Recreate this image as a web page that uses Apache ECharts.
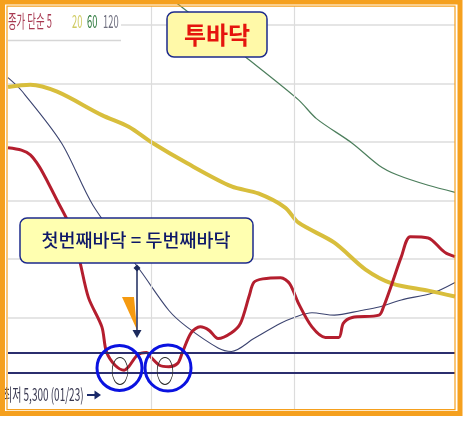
<!DOCTYPE html>
<html>
<head>
<meta charset="utf-8">
<title>투바닥</title>
<script src="https://cdn.jsdelivr.net/npm/echarts@6/dist/echarts.min.js"></script>
<style>
    html, body { margin: 0; padding: 0; background: #fff; }
    #chart { width: 465px; height: 423px; }
</style>
</head>
<body>
<div id="chart"></div>
<script>
// [일자, 가격] - 그림에서 읽은 값
const ma5 = [[0, 5495], [3, 5493], [5, 5489], [7, 5479], [9, 5465], [11, 5450], [14, 5427], [16, 5399],
    [18, 5367], [21, 5342], [22, 5321], [24, 5309], [26, 5305], [27, 5308], [29, 5318], [31, 5320],
    [32, 5316], [34, 5309], [36, 5308], [38, 5311], [39, 5320], [41, 5337], [43, 5342], [45, 5339],
    [47, 5332], [50, 5337], [52, 5345], [54, 5369], [55, 5380], [57, 5383], [61, 5384], [63, 5379],
    [65, 5362], [68, 5342], [71, 5333], [74, 5333], [75, 5345], [77, 5350], [83, 5352], [84, 5359],
    [86, 5380], [88, 5402], [90, 5419], [94, 5418], [97, 5408], [98, 5405], [100, 5402]];
const ma20 = [[0, 5547], [5, 5549], [11, 5543], [21, 5523], [27, 5513], [32, 5500], [40, 5482],
    [50, 5462], [56, 5456], [62, 5444], [65, 5431], [73, 5414], [80, 5391], [86, 5379], [94, 5373], [100, 5368]];
const ma60 = [[37, 5621], [39, 5615], [53, 5573], [65, 5536], [69, 5520], [77, 5499], [83, 5480],
    [87, 5472], [94, 5463], [100, 5457]];
const ma120 = [[0, 5555], [3, 5544], [12, 5499], [19, 5446], [30, 5388], [36, 5356], [40, 5342],
    [47, 5324], [50, 5321], [55, 5332], [61, 5345], [64, 5350], [68, 5354], [73, 5352], [79, 5356],
    [83, 5359], [88, 5365], [95, 5371], [100, 5380]];

const monthStarts = [32, 64];          // 세로 구분선
const bottomBand = [5303, 5320];       // 바닥 구간
const legendNames = ['종가 단순 5', '20', '60', '120'];
const legendColors = ['#a83a52', '#cfcb62', '#2e7a3e', '#707080'];
const legendX = [8, 72, 87, 103];
const lowLabel = '최저 5,300 (01/23)';

const FONT = '"Noto Sans CJK KR"';
const ORANGE = '#f5a01e';
const NAVY = '#1d2a8c';

let myChart = echarts.init(document.getElementById('chart'));

const legendGraphics = legendNames.map((name, i) => ({
    type: 'text',
    x: legendX[i],
    y: 21.5,
    scaleX: 0.52,
    z: 11,
    style: {
        text: name,
        font: '18px ' + FONT,
        fill: legendColors[i],
        textVerticalAlign: 'middle',
        verticalAlign: 'middle'
    }
}));

const option = {
    animation: false,
    backgroundColor: '#fff',
    grid: [
        { left: 8, right: 10, top: 25, bottom: 47 },
        // 세로선용
        { left: 8, right: 10, top: 6, bottom: 13 }
    ],
    xAxis: [
        { type: 'value', gridIndex: 0, min: 0, max: 100, show: false },
        { type: 'value', gridIndex: 1, min: 0, max: 100, show: false }
    ],
    yAxis: [
        {
            type: 'value', gridIndex: 0, min: 5300, max: 5600, interval: 50,
            axisLine: { show: false }, axisTick: { show: false }, axisLabel: { show: false },
            splitLine: { show: true, showMinLine: false, lineStyle: { color: '#dcdcdc', width: 1.5 } }
        },
        { type: 'value', gridIndex: 1, min: 0, max: 1, show: false }
    ],
    series: [
        {
            type: 'scatter',
            xAxisIndex: 1,
            yAxisIndex: 1,
            data: monthStarts.map(d => [d, 0]),
            symbolSize: 0,
            silent: true,
            markLine: {
                silent: true,
                symbol: ['none', 'none'],
                label: { show: false },
                lineStyle: { color: '#dcdcdc', width: 1.2, type: 'solid' },
                data: monthStarts.map(d => ({ xAxis: d }))
            }
        },
        {
            name: '60', type: 'line', data: ma60, symbol: 'none', smooth: 0.3, clip: false,
            lineStyle: { color: '#4c7e5c', width: 1.2 }, silent: true
        },
        {
            name: '120', type: 'line', data: ma120, symbol: 'none', smooth: 0.3,
            lineStyle: { color: '#3c4470', width: 1.1 }, silent: true,
            markLine: {
                silent: true,
                symbol: ['none', 'none'],
                label: { show: false },
                lineStyle: { color: '#2b2e6e', width: 2, type: 'solid' },
                data: bottomBand.map(v => ({ yAxis: v }))
            }
        },
        {
            name: '20', type: 'line', data: ma20, symbol: 'none', smooth: 0.3,
            lineStyle: { color: '#d8be3c', width: 4 }, silent: true
        },
        {
            name: '5', type: 'line', data: ma5, symbol: 'none', smooth: 0.3,
            lineStyle: { color: '#b41e2e', width: 3 }, silent: true
        }
    ],
    graphic: [
        // 범례 바탕
        { type: 'rect', shape: { x: 8, y: 7, width: 113, height: 33 }, style: { fill: '#fff' }, z: 10 },
        { type: 'line', shape: { x1: 8, y1: 40.5, x2: 121, y2: 40.5 }, style: { stroke: '#d6d6d6', lineWidth: 1.5 }, z: 10 },
        ...legendGraphics,

        // 제목
        { type: 'rect', shape: { x: 167, y: 12, width: 100, height: 45, r: 7 }, style: { fill: '#fff9a8', stroke: NAVY, lineWidth: 1.5 }, z: 20 },
        {
            type: 'text', x: 217, y: 35, z: 21,
            style: { text: '투바닥', font: 'bold 24px ' + FONT, fill: '#e5140d', textAlign: 'center', align: 'center', textVerticalAlign: 'middle', verticalAlign: 'middle' }
        },

        // 설명 상자
        { type: 'rect', shape: { x: 20, y: 218, width: 233, height: 45, r: 7 }, style: { fill: '#ffffb0', stroke: NAVY, lineWidth: 1.5 }, z: 20 },
        {
            type: 'text', x: 136, y: 240, z: 21,
            style: { text: '첫번째바닥 = 두번째바닥', font: '500 18.5px ' + FONT, fill: '#0e1868', textAlign: 'center', align: 'center', textVerticalAlign: 'middle', verticalAlign: 'middle' }
        },

        // 화살표
        { type: 'polygon', shape: { points: [[122, 297], [134, 297], [137, 330]] }, style: { fill: '#f59a10' }, z: 30 },
        { type: 'line', shape: { x1: 137, y1: 268, x2: 137, y2: 331 }, style: { stroke: '#1c2a5c', lineWidth: 1.5 }, z: 31 },
        { type: 'polygon', shape: { points: [[137, 264.5], [140.5, 268], [137, 271.5], [133.5, 268]] }, style: { fill: '#1c2a5c' }, z: 31 },
        { type: 'polygon', shape: { points: [[132.5, 330], [141.5, 330], [137, 338]] }, style: { fill: '#1c2a5c' }, z: 31 },

        // 바닥 표시
        { type: 'circle', x: 120, y: 371, scaleX: 0.58, shape: { cx: 0, cy: 0, r: 13.5 }, style: { fill: 'none', stroke: '#2a2a2a', lineWidth: 1.2 }, z: 30 },
        { type: 'circle', x: 165, y: 371, scaleX: 0.58, shape: { cx: 0, cy: 0, r: 13.5 }, style: { fill: 'none', stroke: '#2a2a2a', lineWidth: 1.2 }, z: 30 },
        { type: 'circle', shape: { cx: 119.5, cy: 368, r: 22.5 }, style: { fill: 'none', stroke: '#0a12e0', lineWidth: 3 }, z: 32 },
        { type: 'circle', shape: { cx: 168, cy: 368, r: 23 }, style: { fill: 'none', stroke: '#0a12e0', lineWidth: 3 }, z: 32 },

        // 최저가
        {
            type: 'text', x: 3, y: 394, scaleX: 0.57, z: 30,
            style: { text: lowLabel, font: '17.5px ' + FONT, fill: '#3a3a52', textVerticalAlign: 'middle', verticalAlign: 'middle' }
        },
        { type: 'line', shape: { x1: 87, y1: 395, x2: 96, y2: 395 }, style: { stroke: '#1a2a6a', lineWidth: 2 }, z: 30 },
        { type: 'polygon', shape: { points: [[94.5, 390.5], [101, 395], [94.5, 399.5]] }, style: { fill: '#1a2a6a' }, z: 30 },

        // 테두리
        { type: 'rect', shape: { x: 2.5, y: 2, width: 457.5, height: 411.5 }, style: { fill: 'none', stroke: ORANGE, lineWidth: 5 }, z: 50 },
        { type: 'rect', shape: { x: 7, y: 6.2, width: 448, height: 403.5 }, style: { fill: 'none', stroke: ORANGE, lineWidth: 1.2 }, z: 50 }
    ]
};

myChart.setOption(option);
</script>
</body>
</html>
